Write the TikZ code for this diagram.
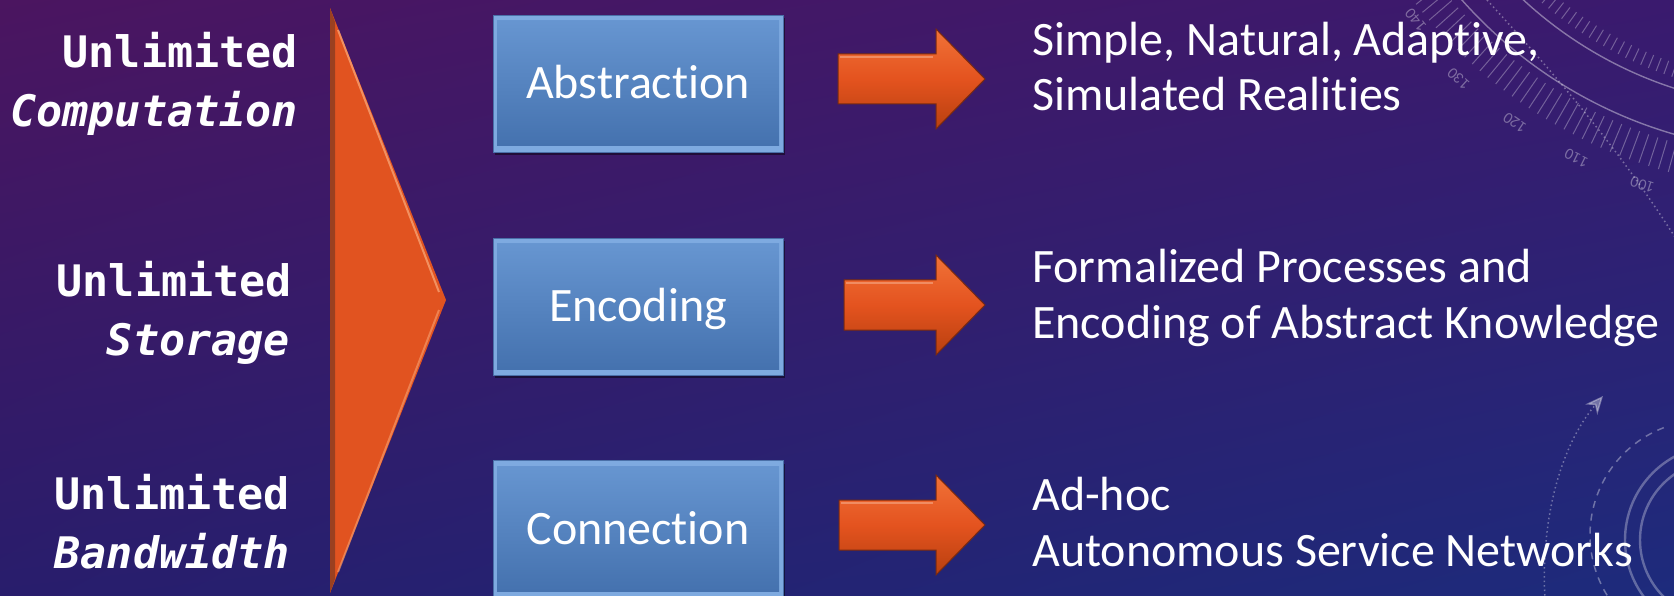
\documentclass[tikz,border=0pt]{standalone}
\usepackage{fontspec}
\setmainfont{Carlito}[Ligatures=NoCommon]
\newfontfamily\monofont{DejaVu Sans Mono}
\usetikzlibrary{shadows,arrows.meta,shadings}
\definecolor{bgUL}{HTML}{4B1560}
\definecolor{bgUR}{HTML}{3A1A6E}
\definecolor{bgLL}{HTML}{281D6C}
\definecolor{bgLR}{HTML}{1D2B7C}
\definecolor{trifill}{HTML}{E15320}
\definecolor{trileft}{HTML}{9A4020}
\definecolor{trihi}{HTML}{F7A070}
\definecolor{boxbevel}{HTML}{7EAAE0}
\definecolor{boxline}{HTML}{4A70A8}
\definecolor{boxtop}{HTML}{6897D2}
\definecolor{boxbot}{HTML}{4370AD}
\definecolor{arrtop}{HTML}{F07238}
\definecolor{arrmid}{HTML}{E4531F}
\definecolor{arrbot}{HTML}{B8400F}
\definecolor{arrline}{HTML}{7A2A10}
\newcommand\blockarrow[2]{%
  \draw[blockarr] (#1,#2-25) -- (936,#2-25) -- (936,#2-50) -- (985,#2)
    -- (936,#2+50) -- (936,#2+25) -- (#1,#2+25) -- cycle;
  \draw[arrhi] (#1+2,#2-22) -- (933,#2-22);
}
\begin{document}
\begin{tikzpicture}[x=1pt,y=-1pt,
  ltext/.style={font=\monofont\bfseries\fontsize{43.4}{52}\selectfont, text=white, inner sep=0pt, anchor=base east},
  litext/.style={ltext, font=\monofont\bfseries\itshape\fontsize{43.4}{52}\selectfont},
  rtext/.style={font=\fontsize{48}{57}\selectfont, text=white, inner sep=0pt, anchor=base west},
  tbox/.style={rectangle, inner sep=0pt, minimum width=290pt, minimum height=137pt,
    fill=boxbevel, draw=boxline, line width=0.6pt,
    drop shadow={shadow xshift=1.5pt, shadow yshift=-3pt, opacity=0.45, fill=black},
    path picture={\shade[top color=boxtop, bottom color=boxbot]
      ([xshift=4pt,yshift=-6pt]path picture bounding box.north west) rectangle
      ([xshift=-4pt,yshift=6pt]path picture bounding box.south east);},
    text=white, font=\fontsize{48}{57}\selectfont, text height=40pt, text depth=10pt},
  blockarr/.style={top color=arrtop, bottom color=arrbot, middle color=arrmid, draw=arrline, line width=1pt, line join=miter},
  arrhi/.style={draw=arrtop!60!white, line width=1.2pt, opacity=0.6},
  deco/.style={draw=white, opacity=0.4, line width=1.4pt},
  decot/.style={draw=white, opacity=0.3, line width=1pt},
  decod/.style={draw=white, opacity=0.35, line width=1.5pt, dash pattern=on 1.5pt off 3pt},
  decoD/.style={draw=white, opacity=0.35, line width=1.5pt, dash pattern=on 7pt off 6pt},
  decoS/.style={draw=white, opacity=0.3, line width=2.4pt},
  decon/.style={text=white, opacity=0.35, font=\fontsize{16}{16}\selectfont, inner sep=0pt}
]
\useasboundingbox (0,0) rectangle (1674,596);
\clip (0,0) rectangle (1674,596);
% background
\shade[upper left=bgUL, upper right=bgUR, lower left=bgLL, lower right=bgLR] (0,0) rectangle (1674,596);

% top-right dial decoration
\begin{scope}[shift={(1800,-300)}]
  \draw[deco] (0,0) circle[radius=452pt];
  \draw[deco] (0,0) circle[radius=408pt];
  \foreach \a in {216,217.2,...,258} \draw[decot] (\a:460pt) -- (\a:490pt);
  \foreach \a in {226,227.2,...,254} \draw[decot] (\a:384pt) -- (\a:398pt);
  \foreach \v/\a/\r in {140/140.2/500,130/132/510,120/124/510,110/116/510,100/108/510}
    \node[decon, rotate=270-\a] (n\v) at (360-\a:\r pt) {\v};
\end{scope}
\draw[decod] (1487,0) .. controls (1560,80) and (1620,150) .. (1680,245);

% bottom-right decoration
\draw[decod, -{Stealth[length=18pt,width=16pt]}] (1545,600) .. controls (1540,510) and (1565,440) .. (1603,396);
\draw[decoD] ([shift={(111:115pt)}]1705,535) arc[start angle=111, end angle=212, radius=115pt];
\draw[decoS] (1720,540) circle[radius=95pt];
\draw[decoS] (1720,540) circle[radius=80pt];

% left labels
\node[ltext] (u1) at (298,68) {Unlimited};
\node[litext] (c1) at (298,127) {Computation};
\node[ltext] (u2) at (292,296) {Unlimited};
\node[litext] (c2) at (290,355) {Storage};
\node[ltext] (u3) at (290,509) {Unlimited};
\node[litext] (c3) at (290,568) {Bandwidth};

% big triangle
\fill[trifill] (330,8) -- (446,300) -- (330,593) -- cycle;
\fill[trileft] (330,8) -- (335,22) -- (335,579) -- (330,593) -- cycle;
\draw[trihi, line width=2pt, opacity=0.8] (338,30) -- (439,292);
\draw[trihi, line width=2pt, opacity=0.6] (439,310) -- (338,572);

% boxes
\node[tbox] (abs) at (638,83.5) {Abstraction};
\node[tbox] (enc) at (638,306.5) {Encoding};
\node[tbox] (con) at (638,529) {Connection};

% arrows
\blockarrow{838}{79}
\blockarrow{844}{305}
\blockarrow{839}{525}

% right texts
\node[rtext] (r1a) at (1032,56) {Simple, Natural, Adaptive,};
\node[rtext] (r1b) at (1032,111) {Simulated Realities};
\node[rtext] (r2a) at (1032,283) {Formalized Processes and};
\node[rtext] (r2b) at (1032,338) {Encoding of Abstract Knowledge};
\node[rtext] (r3a) at (1032,510) {Ad-hoc};
\node[rtext] (r3b) at (1032,566) {Autonomous Service Networks};
\end{tikzpicture}
\end{document}
